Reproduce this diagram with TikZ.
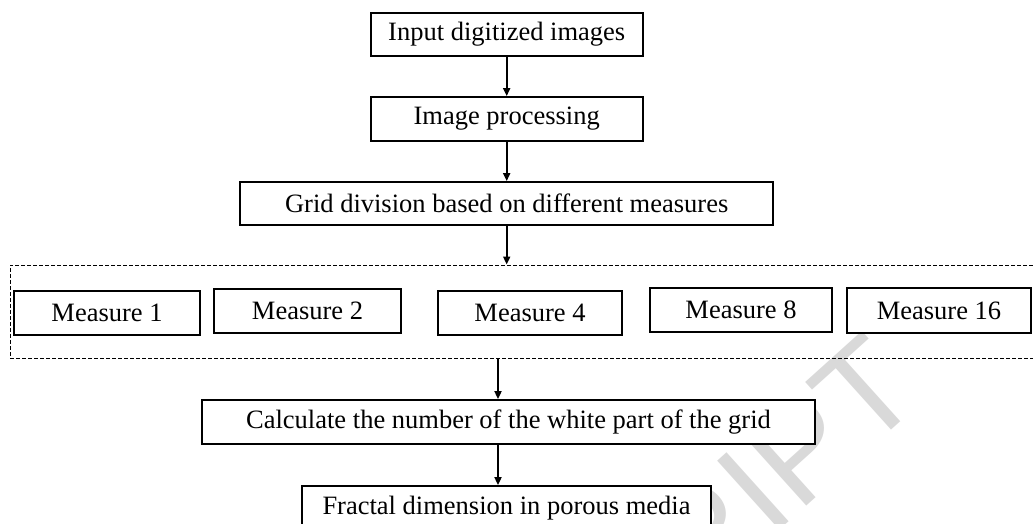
\documentclass[tikz,border=0pt]{standalone}
\usepackage{fontspec}
\setmainfont{Liberation Serif}
\newfontfamily\markfont{Liberation Sans}
\usetikzlibrary{arrows.meta}
\begin{document}
\begin{tikzpicture}[x=1pt,y=-1pt,
  stepbox/.style={draw, fill=white, line width=1.8pt, inner sep=0pt, anchor=center,
    font=\fontsize{26.5}{30}\selectfont},
  dashbox/.style={draw, dash pattern=on 4pt off 2pt, line width=1pt, inner sep=0pt},
  arr/.style={line width=1.8pt, -{Triangle[length=8pt,width=7pt]}},
  stamp/.style={text=black!15, font=\markfont\fontsize{135}{135}\selectfont,
    inner sep=0pt, rotate=42, anchor=base east}]
  \useasboundingbox (0,0) rectangle (1033,524);
  \begin{scope}
    \clip (0,0) rectangle (1033,524);
    % faint diagonal stamp behind the chart
    \node[stamp] (mark) at (927,398) {ACCEPTED MANUSCRIPT};
  \end{scope}
  % main chain
  \node[stepbox, minimum width=272pt, minimum height=43pt] (n1) at (506.7,34.5) {Input digitized images};
  \node[stepbox, minimum width=272pt, minimum height=44pt] (n2) at (506.7,119) {Image processing};
  \node[stepbox, minimum width=532.7pt, minimum height=43pt] (n3) at (506.7,203.5) {Grid division based on different measures};
  % dashed group of measures
  \node[dashbox, minimum width=1035pt, minimum height=93pt] (frame) at (527.5,311.5) {};
  \node[stepbox, minimum width=186pt, minimum height=44pt] (m1) at (107,313) {Measure 1};
  \node[stepbox, minimum width=187pt, minimum height=44pt] (m2) at (307.5,311) {Measure 2};
  \node[stepbox, minimum width=184pt, minimum height=44pt] (m4) at (530,313) {Measure 4};
  \node[stepbox, minimum width=182pt, minimum height=44pt] (m8) at (741,310) {Measure 8};
  \node[stepbox, minimum width=184pt, minimum height=45pt] (m16) at (939,310.5) {Measure 16};
  % counting and result
  \node[stepbox, minimum width=613pt, minimum height=44pt] (n5) at (508.5,422) {Calculate the number of the white part of the grid};
  \node[stepbox, minimum width=409pt, minimum height=44pt] (n6) at (506.5,508) {Fractal dimension in porous media};
  % connectors
  \draw[arr] (n1.south) -- (n2.north);
  \draw[arr] (n2.south) -- (n3.north);
  \draw[arr] (n3.south) -- (n3.south |- frame.north);
  \draw[arr] ([xshift=-10.5pt]n5.north |- frame.south) -- ([xshift=-10.5pt]n5.north);
  \draw[arr] ([xshift=-10.5pt]n5.south) -- ([xshift=-10.5pt]n5.south |- n6.north);
\end{tikzpicture}
\end{document}
